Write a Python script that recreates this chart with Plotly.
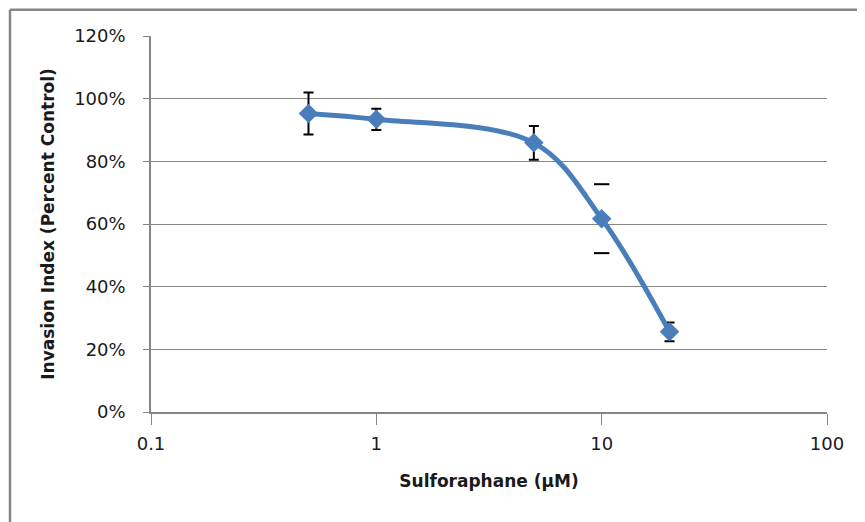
import plotly.graph_objects as go

conc = [0.5, 1, 5, 10, 20]
invasion = [0.953, 0.934, 0.859, 0.617, 0.256]
err = [0.067, 0.034, 0.054, 0.11, 0.03]
stem_visible = [True, True, True, False, True]

x_ticks = [0.1, 1, 10, 100]
x_labels = ["0.1", "1", "10", "100"]

blue = "#4A7EBB"
gray = "#868686"
font_fam = "DejaVu Sans, Liberation Sans, Arial, sans-serif"

# page offset of the figure inside the browser body (default 8px margin)
OFF = 8
PL, PR, PT, PB = 151 - OFF, 827 - OFF, 36.2 - OFF, 411.7 - OFF
W, H = 865 - OFF, 522 - OFF

fig = go.Figure()

ex = [c for c, s in zip(conc, stem_visible) if s]
ey = [v for v, s in zip(invasion, stem_visible) if s]
ee = [e for e, s in zip(err, stem_visible) if s]
fig.add_trace(go.Scatter(
    x=ex, y=ey, mode="markers", marker=dict(size=1, color="rgba(0,0,0,0)"),
    error_y=dict(type="data", array=ee, visible=True, color="black", thickness=2, width=5),
    showlegend=False, hoverinfo="skip"))

cx, cy = [], []
for c, v, e, s in zip(conc, invasion, err, stem_visible):
    if not s:
        cx += [c, c]
        cy += [v + e, v - e]
fig.add_trace(go.Scatter(
    x=cx, y=cy, mode="markers",
    marker=dict(symbol="line-ew-open", size=11, color="black", line=dict(color="black", width=2)),
    showlegend=False, hoverinfo="skip"))

fig.add_trace(go.Scatter(
    x=conc, y=invasion, mode="lines+markers",
    line=dict(color=blue, width=5, shape="spline", smoothing=1),
    marker=dict(symbol="diamond", size=15, color=blue),
    showlegend=False))

pw, ph = PR - PL, PB - PT
bx = (10 - OFF - PL) / pw
by = (PB - (10 - OFF)) / ph

fig.update_layout(
    width=W, height=H,
    margin=dict(l=PL, r=W - PR, t=PT, b=H - PB, autoexpand=False),
    paper_bgcolor="white", plot_bgcolor="white",
    font=dict(family=font_fam, size=18, color="#1a1a1a"),
    xaxis=dict(
        type="log", range=[-1, 2], tickvals=x_ticks, ticktext=x_labels,
        showgrid=False, showline=True, linecolor=gray, linewidth=1.5,
        ticks="outside", ticklen=11, tickcolor=gray, tickwidth=1,
        ticklabelstandoff=4,
        title=dict(text="<b>Sulforaphane (µM)</b>", font=dict(size=17), standoff=22),
        zeroline=False),
    yaxis=dict(
        range=[0, 1.2], dtick=0.2, tickformat=".0%",
        showgrid=True, gridcolor=gray, gridwidth=1,
        showline=True, linecolor=gray, linewidth=1.5,
        ticks="outside", ticklen=6, tickcolor=gray, tickwidth=1,
        ticklabelstandoff=14,
        title=dict(text="<b>Invasion Index (Percent Control)</b>", font=dict(size=17), standoff=15),
        zeroline=False),
    shapes=[
        dict(type="line", xref="paper", yref="paper",
             x0=bx, x1=1.3, y0=by, y1=by, line=dict(color=gray, width=2.5)),
        dict(type="line", xref="paper", yref="paper",
             x0=bx, x1=bx, y0=by, y1=-0.6, line=dict(color=gray, width=2.5)),
    ],
)

fig.write_html("out.html")
